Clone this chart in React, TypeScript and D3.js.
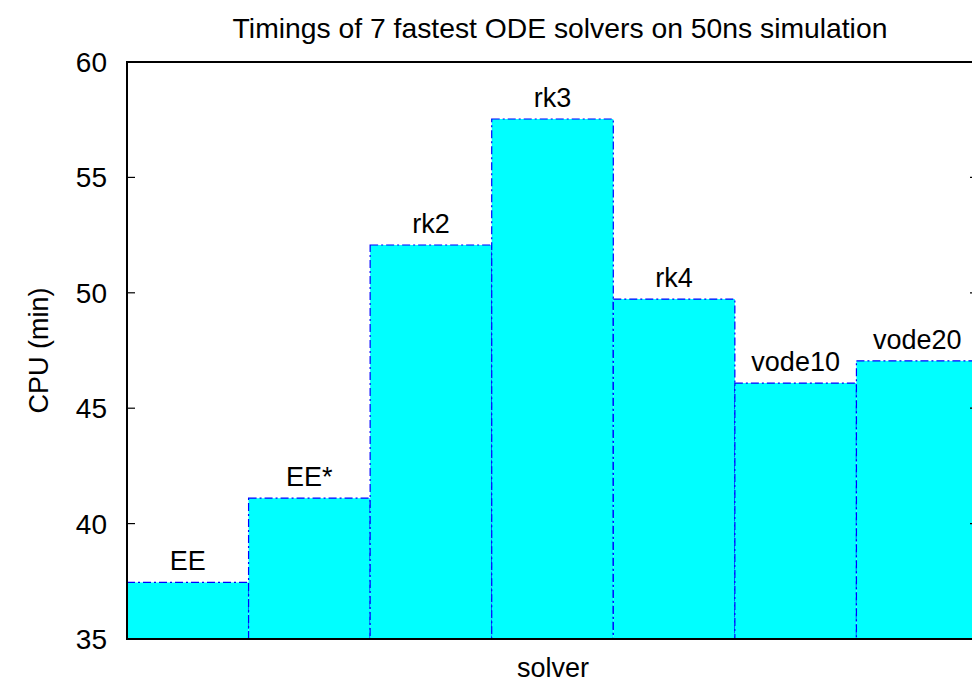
import React, { useEffect, useRef } from 'react';
import * as d3 from 'd3';

const solvers = ['EE', 'EE*', 'rk2', 'rk3', 'rk4', 'vode10', 'vode20'];
const cpuMinutes = [37.45, 41.1, 52.07, 57.53, 49.73, 46.09, 47.05];
const yTicks = [35, 40, 45, 50, 55, 60];

const App = () => {
  const ref = useRef<SVGSVGElement | null>(null);

  useEffect(() => {
    if (!ref.current) return;
    const svg = d3.select(ref.current);
    svg.selectAll('*').remove();

    const left = 127, right = 978, top = 62, bottom = 639;
    const font = 'Liberation Sans, Arial, sans-serif';

    const x = d3.scaleBand().domain(solvers).range([left, right]).padding(0);
    const y = d3.scaleLinear().domain([35, 60]).range([bottom, top]);

    // bars
    svg.append('g')
      .selectAll('rect')
      .data(solvers)
      .enter()
      .append('rect')
      .attr('x', d => x(d)!)
      .attr('y', (d, i) => y(cpuMinutes[i]))
      .attr('width', x.bandwidth())
      .attr('height', (d, i) => bottom - y(cpuMinutes[i]))
      .attr('fill', '#00ffff')
      .attr('stroke', '#0000ff')
      .attr('stroke-width', 1.2)
      .attr('stroke-dasharray', '8,3,2,3');

    // bar labels
    svg.append('g')
      .selectAll('text')
      .data(solvers)
      .enter()
      .append('text')
      .attr('x', d => x(d)! + x.bandwidth() / 2)
      .attr('y', (d, i) => y(cpuMinutes[i]) - 12)
      .attr('text-anchor', 'middle')
      .style('font-family', font)
      .style('font-size', '27px')
      .text(d => d);

    // border
    svg.append('rect')
      .attr('x', left)
      .attr('y', top)
      .attr('width', right - left)
      .attr('height', bottom - top)
      .attr('fill', 'none')
      .attr('stroke', '#000')
      .attr('stroke-width', 2);

    // y ticks (mirrored)
    const ticks = svg.append('g');
    yTicks.forEach(t => {
      ticks.append('line')
        .attr('x1', left).attr('x2', left + 8)
        .attr('y1', y(t)).attr('y2', y(t))
        .attr('stroke', '#000').attr('stroke-width', 1.2);
      ticks.append('line')
        .attr('x1', right - 8).attr('x2', right)
        .attr('y1', y(t)).attr('y2', y(t))
        .attr('stroke', '#000').attr('stroke-width', 1.2);
      ticks.append('text')
        .attr('x', 107)
        .attr('y', y(t))
        .attr('dy', '0.36em')
        .attr('text-anchor', 'end')
        .style('font-family', font)
        .style('font-size', '28px')
        .text(t);
    });

    svg.append('text')
      .attr('x', 560)
      .attr('y', 38)
      .attr('text-anchor', 'middle')
      .style('font-family', font)
      .style('font-size', '28.3px')
      .text('Timings of 7 fastest ODE solvers on 50ns simulation');

    svg.append('text')
      .attr('x', 553)
      .attr('y', 677)
      .attr('text-anchor', 'middle')
      .style('font-family', font)
      .style('font-size', '27px')
      .text('solver');

    svg.append('text')
      .attr('transform', `translate(48,${(top + bottom) / 2}) rotate(-90)`)
      .attr('text-anchor', 'middle')
      .style('font-family', font)
      .style('font-size', '27px')
      .text('CPU (min)');
  }, []);

  return (
    <div style={{ position: 'absolute', left: 0, top: 0 }}>
      <svg ref={ref} width={972} height={683} style={{ display: 'block', background: '#fff' }} />
    </div>
  );
};

export default App;
